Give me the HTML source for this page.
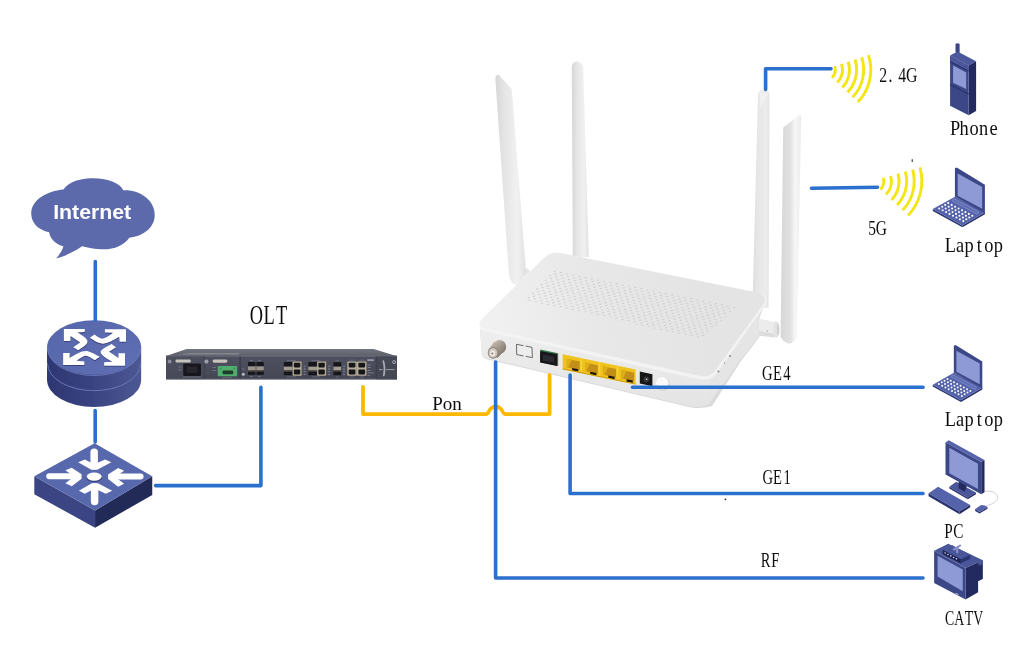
<!DOCTYPE html>
<html lang="en">
<head>
<meta charset="utf-8">
<title>Network topology</title>
<style>
html,body{margin:0;padding:0;background:#fff;}
body{width:1034px;height:668px;overflow:hidden;position:relative;}
svg{display:block;position:absolute;left:0;top:0;}
text{font-family:"Liberation Serif","Noto Serif CJK SC",serif;fill:#111;}
.bl{stroke:#2c6fcd;stroke-width:3.6;fill:none;stroke-linecap:round;stroke-linejoin:round;}
.yl{stroke:#ffb803;stroke-width:3.8;fill:none;stroke-linecap:round;stroke-linejoin:round;}
.wf{stroke:#f3e516;stroke-width:2.9;fill:none;stroke-linecap:butt;}
</style>
</head>
<body>
<svg width="1034" height="668" viewBox="0 0 1034 668">
<defs>
<linearGradient id="cylSide" x1="0" y1="0" x2="1" y2="0">
<stop offset="0" stop-color="#2e3772"/><stop offset="0.45" stop-color="#384280"/><stop offset="1" stop-color="#4d5893"/>
</linearGradient>
<linearGradient id="cylTop" x1="0" y1="0" x2="1" y2="1">
<stop offset="0" stop-color="#5767ab"/><stop offset="1" stop-color="#5f6eb3"/>
</linearGradient>
<filter id="soft" x="-5%" y="-5%" width="110%" height="110%"><feGaussianBlur stdDeviation="0.45"/></filter>
<filter id="soft2" x="-5%" y="-5%" width="110%" height="110%"><feGaussianBlur stdDeviation="0.7"/></filter>
</defs>
<rect width="1034" height="668" fill="#ffffff"/>
<!-- Internet cloud -->
<g filter="url(#soft)">
<g transform="translate(20,170) scale(0.1497)">
<path fill="#5c6bab" d="M290 130C330 70 420 55 490 55C590 55 670 90 690 135C800 130 900 200 900 300C900 380 830 440 730 452C700 500 630 530 560 530C500 530 450 520 415 510C370 540 310 575 240 592C270 560 285 530 290 510C240 495 200 460 195 415C120 400 75 350 75 290C75 200 180 140 290 130Z"/>
</g>
<text x="53.2" y="219.1" font-size="20" font-weight="bold" textLength="78" lengthAdjust="spacingAndGlyphs" style="font-family:'Liberation Sans',sans-serif;fill:#fff">Internet</text>
</g>

<!-- Core router (cylinder) -->
<g filter="url(#soft)">
<g transform="translate(35,310) scale(0.1646)">
<path fill="url(#cylSide)" d="M73 228V424A286 166 0 0 0 645 424V228Z"/>
<path fill="none" stroke="#6a76b6" stroke-width="6" d="M76 324A283 166 0 0 0 642 324"/>
<ellipse cx="359" cy="228" rx="286" ry="166" fill="url(#cylTop)"/>
<path fill="none" stroke="#6f7cbf" stroke-width="5" d="M76 232A283 166 0 0 0 642 232"/>
</g>
<g transform="translate(55.1,322.85) scale(0.07737)" fill="#262e66" opacity="0.85">
<use href="#rarrows"/>
</g>
<g id="rarrows0" transform="translate(55,322) scale(0.07737)" fill="#ffffff">
<g id="rarrows">
<path d="M115 92H385V130L290 135C350 170 420 215 420 250C420 280 410 300 300 365L235 325L325 265L200 180V245H115Z"/>
<path d="M918 95H645V135L750 140C700 180 650 215 610 215C580 215 545 185 510 160L450 205C500 240 560 280 620 280C680 280 760 230 830 190L835 255H918Z"/>
<path d="M105 555V400H190V465C260 420 340 375 400 375C440 375 500 410 580 450L515 495C470 465 430 435 400 435C370 435 320 470 280 500L380 510V555Z"/>
<path d="M905 565V405H820V465L700 385L790 325L730 285C660 325 590 360 590 390C590 420 660 470 740 515L635 520V565Z"/>
</g>
</g>
</g>

<!-- Aggregation switch -->
<g filter="url(#soft)">
<g transform="translate(25,435) scale(0.1497)">
<path fill="#3a4584" d="M62 275L468 505V620L62 395Z"/>
<path fill="#222958" d="M850 275L468 505V620L850 400Z"/>
<path fill="#5968ad" d="M465 55L850 275L468 505L62 275Z"/>
<g fill="#1f2655" opacity="0.55" transform="translate(0,7)">
<ellipse cx="462" cy="278" rx="52" ry="29"/>
</g>
<g fill="none" stroke="#fff" stroke-linecap="round" stroke-linejoin="miter">
<ellipse cx="462" cy="278" rx="50" ry="28" stroke="none" fill="#fff"/>
<path stroke-width="50" d="M462 115V205"/>
<path stroke-width="50" d="M465 445V348"/>
<path stroke-width="40" d="M162 275H340"/>
<path stroke-width="40" d="M772 278H590"/>
<g stroke="none" fill="#fff">
<path d="M355 182L400 163L462 196L535 163L577 182L482 232H443Z"/>
<path d="M360 372L400 392L465 357L540 392L582 372L487 322H446Z"/>
<path d="M270 235L312 218L378 262V292L312 342L270 322L328 278Z"/>
<path d="M662 238L622 220L555 264V294L622 346L662 326L602 280Z"/>
</g>
</g>
</g>
</g>
<!-- OLT chassis -->
<g id="olt" filter="url(#soft2)">
<defs>
<linearGradient id="oltTop" x1="0" y1="0" x2="0" y2="1"><stop offset="0" stop-color="#73757e"/><stop offset="1" stop-color="#5c5e69"/></linearGradient>
<linearGradient id="oltFront" x1="0" y1="0" x2="0" y2="1"><stop offset="0" stop-color="#4f5160"/><stop offset="0.85" stop-color="#474957"/><stop offset="1" stop-color="#3b3d49"/></linearGradient>
</defs>
<path fill="url(#oltTop)" d="M166 355.9L186.5 349H373.8L397 356.2Z"/>
<rect x="166" y="355.7" width="231" height="23.8" fill="url(#oltFront)"/>
<rect x="166" y="378.6" width="231" height="1.2" fill="#8a8c98" opacity="0.7"/>
<rect x="166" y="355.6" width="231" height="0.9" fill="#7d7f8a" opacity="0.8"/>
<!-- light strip on top -->
<path fill="#9a9ca4" opacity="0.6" d="M178 354.4L190 353H240L238 354.6Z"/>
<!-- dividers -->
<rect x="203.6" y="356.5" width="0.8" height="22" fill="#33343f"/>
<rect x="239.6" y="356.5" width="0.9" height="22" fill="#30313b"/>
<rect x="375.8" y="356.5" width="0.9" height="22" fill="#33343f"/>
<rect x="166" y="356" width="38" height="23" fill="#4c4e5c" opacity="0.5"/>
<rect x="376.5" y="356.3" width="20.5" height="23" fill="#444653" opacity="0.8"/>
<!-- power module -->
<circle cx="169.6" cy="361.5" r="1.9" fill="#8c8e9c"/>
<rect x="175.5" y="359.6" width="15.3" height="3" rx="1.4" fill="#c6c2bc"/>
<rect x="183.3" y="363.4" width="17.6" height="12.5" rx="0.8" fill="#14141a"/>
<rect x="186.5" y="366.5" width="11" height="6.5" rx="1" fill="#26262c"/>
<rect x="178.5" y="366.5" width="3" height="0.8" fill="#777a88"/><rect x="178.5" y="369.5" width="3" height="0.8" fill="#777a88"/>
<rect x="183" y="376.6" width="18" height="0.8" fill="#6d6f7c"/>
<!-- dc module -->
<circle cx="206.4" cy="361.6" r="2.1" fill="#9a9ca8"/>
<rect x="212.6" y="359.4" width="14.8" height="3.3" rx="1.6" fill="#c8c4be"/>
<rect x="217.8" y="366" width="19.2" height="10.2" rx="0.6" fill="#4fae6c"/>
<rect x="222.6" y="370.6" width="10.6" height="3.6" rx="1" fill="#1d3b29"/>
<circle cx="220.6" cy="368.6" r="1" fill="#3a8a54"/><circle cx="234.4" cy="368.6" r="1" fill="#3a8a54"/>
<rect x="212.5" y="367" width="3.6" height="0.8" fill="#777a88"/><rect x="212.5" y="370" width="3.6" height="0.8" fill="#777a88"/>
<rect x="222" y="377" width="10" height="0.7" fill="#6d6f7c"/>
<!-- leds -->
<circle cx="243.3" cy="369" r="1.3" fill="#5d5f6d"/>
<circle cx="243.3" cy="374.3" r="1.5" fill="#b9b9c2"/>
<!-- SFP block 1 -->
<g id="sfp2">
<rect x="248" y="362" width="15.8" height="12.8" fill="#16161b"/>
<rect x="248" y="366.3" width="15.8" height="4" fill="#9a948c"/>
<rect x="248" y="370.3" width="15.8" height="1.2" fill="#5e5a55"/>
<rect x="255.5" y="362" width="0.9" height="12.8" fill="#50525f"/>
</g>
<rect x="250" y="360" width="3" height="0.7" fill="#777a88"/><rect x="258" y="360" width="3" height="0.7" fill="#777a88"/>
<rect x="250" y="376.3" width="3" height="0.7" fill="#777a88"/><rect x="258" y="376.3" width="3" height="0.7" fill="#777a88"/>
<!-- combo group 1 -->
<g id="combo">
<rect x="283.8" y="362" width="8.8" height="13.2" fill="#17171c"/>
<rect x="283.8" y="366.6" width="8.8" height="3.8" fill="#a39c92"/>
<rect x="283.8" y="370.4" width="8.8" height="1.1" fill="#5e5a55"/>
<rect x="292.6" y="361.4" width="9" height="14.4" rx="0.8" fill="#b4ab9a"/>
<rect x="293.9" y="362.8" width="6.4" height="4.6" rx="0.8" fill="#121216"/>
<rect x="293.9" y="369.6" width="6.4" height="4.8" rx="0.8" fill="#121216"/>
<rect x="303.6" y="365.8" width="2" height="0.8" fill="#8f919e"/><rect x="303.6" y="368.6" width="2" height="0.8" fill="#8f919e"/><rect x="303.6" y="371.4" width="2" height="0.8" fill="#8f919e"/><rect x="303.6" y="374.2" width="2" height="0.8" fill="#8f919e"/>
<rect x="287" y="360" width="9" height="0.6" fill="#777a88"/><rect x="287" y="376.6" width="9" height="0.6" fill="#777a88"/>
</g>
<use href="#combo" x="24.5"/>
<!-- single SFP -->
<rect x="333.4" y="362.2" width="7.8" height="13" fill="#17171c"/>
<rect x="333.4" y="366.6" width="7.8" height="3.8" fill="#a39c92"/>
<rect x="333.4" y="370.4" width="7.8" height="1.1" fill="#5e5a55"/>
<rect x="343" y="365.8" width="2" height="0.8" fill="#8f919e"/><rect x="343" y="368.6" width="2" height="0.8" fill="#8f919e"/><rect x="343" y="371.4" width="2" height="0.8" fill="#8f919e"/><rect x="343" y="374.2" width="2" height="0.8" fill="#8f919e"/>
<rect x="335.5" y="360" width="3.5" height="0.6" fill="#777a88"/><rect x="335.5" y="376.6" width="3.5" height="0.6" fill="#777a88"/>
<!-- RJ45 pair -->
<g id="rj">
<rect x="347.3" y="361.4" width="9.5" height="14.4" rx="0.8" fill="#b4ab9a"/>
<rect x="348.7" y="362.8" width="6.7" height="4.6" rx="0.8" fill="#121216"/>
<rect x="348.7" y="369.6" width="6.7" height="4.8" rx="0.8" fill="#121216"/>
</g>
<use href="#rj" x="9.7"/>
<rect x="349.5" y="359.8" width="5" height="0.6" fill="#777a88"/><rect x="359.5" y="359.8" width="5" height="0.6" fill="#777a88"/>
<rect x="349.5" y="376.7" width="5" height="0.6" fill="#777a88"/><rect x="360" y="376.7" width="4" height="0.6" fill="#777a88"/>
<rect x="367.3" y="359.3" width="6.5" height="1.6" fill="#a0a2ad"/>
<rect x="367.6" y="364.6" width="3" height="0.7" fill="#8f919e"/><rect x="367.6" y="367.2" width="3" height="0.7" fill="#8f919e"/><rect x="367.6" y="370" width="3" height="0.7" fill="#8f919e"/><rect x="367.6" y="372.6" width="6" height="0.7" fill="#8f919e"/><rect x="367.6" y="375.4" width="2.4" height="0.7" fill="#8f919e"/>
<!-- right ear -->
<path fill="none" stroke="#a9abb5" stroke-width="1.7" stroke-linecap="round" d="M383.3 361Q385.4 367.5 383.8 375.3"/>
<rect x="379" y="369.2" width="3.4" height="0.9" fill="#a0a2ad"/><rect x="386" y="369.2" width="8.5" height="0.9" fill="#a0a2ad"/>
<circle cx="394.1" cy="362.1" r="1.5" fill="none" stroke="#c0c2cc" stroke-width="0.8"/>
</g>
<!-- ONU router -->
<g id="onu" filter="url(#soft2)">
<defs>
<linearGradient id="ant" x1="0" y1="0" x2="1" y2="0"><stop offset="0" stop-color="#d6d6d6"/><stop offset="0.3" stop-color="#e5e5e5"/><stop offset="0.72" stop-color="#f1f1f1"/><stop offset="1" stop-color="#e0e0e0"/></linearGradient>
<linearGradient id="ant2" x1="0" y1="0" x2="1" y2="0"><stop offset="0" stop-color="#d6d6d6"/><stop offset="0.5" stop-color="#e2e2e2"/><stop offset="0.7" stop-color="#f7f7f7"/><stop offset="1" stop-color="#ececec"/></linearGradient>
<linearGradient id="ant3" x1="0" y1="0" x2="1" y2="0"><stop offset="0" stop-color="#dedede"/><stop offset="0.3" stop-color="#e6e6e6"/><stop offset="0.8" stop-color="#ececec"/><stop offset="1" stop-color="#e2e2e2"/></linearGradient>
<linearGradient id="topF" gradientUnits="userSpaceOnUse" x1="700" y1="280" x2="500" y2="330"><stop offset="0" stop-color="#e4e4e4"/><stop offset="0.55" stop-color="#e8e8e8"/><stop offset="1" stop-color="#f0f0f0"/></linearGradient>
<linearGradient id="frontF" x1="0" y1="0" x2="0" y2="1"><stop offset="0" stop-color="#eeeeee"/><stop offset="1" stop-color="#e4e4e4"/></linearGradient>
<pattern id="vent" width="2" height="2" patternUnits="userSpaceOnUse" patternTransform="matrix(3.1 0.62 -2.15 2.2 554 270)">
<circle cx="0.5" cy="0.5" r="0.27" fill="#c8c8c8"/><circle cx="1.5" cy="1.5" r="0.27" fill="#c8c8c8"/>
</pattern>
</defs>
<!-- back antennas -->
<path fill="url(#ant)" d="M571.8 66Q572 62.5 576.8 61.2Q582.6 63 583.2 67.5L588.8 257H572.8Z"/>
<path fill="url(#ant3)" d="M758 94Q759 90.5 763.5 90L768.3 91.5Q769.7 92.5 769.5 96L768.6 308H752.4Z"/>
<path fill="#f1f1f1" d="M759.5 92L768.6 93.5L760.5 108Z" opacity="0.9"/>
<!-- body -->
<path fill="#dadada" d="M480 329L482 355.5Q483.5 358.5 489 359.8L691 407.4Q702 409 711.8 406.3L741 361L759.5 337L759.5 318L765 303Z"/>
<path fill="url(#frontF)" d="M479.8 328L482 354.5Q483.5 357.5 489 358.8L691 406.4Q702 408 709 404L712 377Z"/>
<path fill="#e5e5e5" d="M712 377L709 404L740.5 360L758.8 336.5V318L765 302Z"/>
<path fill="#f3f3f3" d="M479.5 322Q478.5 329.5 486 331.5L700 379.5Q711 381 716.5 373.5L766 304Q768 296 760.5 293.2L560 253Q551 251.5 544.5 257.5Z"/>
<path fill="url(#topF)" d="M480 321Q479 326.5 486 328.3L700 376Q710 377.5 715 371L764.5 302.5Q766 295.5 759.5 293L560 253Q551 251.5 544.5 257.5Z"/>
<path fill="url(#vent)" d="M554 270L737 306L702 339L524 300Z"/>
<!-- side leds -->
<circle cx="718.5" cy="371.5" r="1" fill="#8a8a8a"/><circle cx="724.5" cy="363" r="0.7" fill="#9a9a9a"/><circle cx="730" cy="356" r="1" fill="#8a8a8a"/>
<!-- front antennas -->
<path fill="#e6e6e6" d="M521 270.5L527.5 268.3L530 271.5L523.5 277.5Z"/>
<path fill="#c8c8c8" d="M522.5 273L525 271L525.6 272.2L523.2 274.4Z"/>
<path fill="url(#ant)" d="M495.3 78Q495.6 75 498.2 74.2L511.8 89L525.8 270Q524 281 516.5 285.5Q510.5 284 509 275Z"/>
<path fill="#ececec" d="M759 318.5L774.5 322V337.5L759 335.5Z"/>
<path fill="#dcdcdc" d="M759 331L774.5 334V337.5L759 335.5Z"/>
<ellipse cx="776.3" cy="329.5" rx="3.3" ry="8.3" fill="#e3e3e3"/>
<ellipse cx="778" cy="329.5" rx="1.2" ry="6" fill="#cfcfcf"/>
<circle cx="767.3" cy="331" r="0.7" fill="#aaa"/>
<path fill="url(#ant2)" d="M783.2 127.5L799.8 114.8Q801.2 115 801.2 117L796.8 337Q794 343 789.5 343.8Q783 342.5 780.6 336.5Z"/>
<!-- RF connector -->
<defs><linearGradient id="rfg" x1="0" y1="0" x2="1" y2="1"><stop offset="0" stop-color="#cfc6bd"/><stop offset="0.5" stop-color="#a3978b"/><stop offset="1" stop-color="#6f655c"/></linearGradient></defs>
<ellipse cx="499.6" cy="346.8" rx="6.6" ry="6.9" fill="url(#rfg)"/>
<path fill="url(#rfg)" d="M488.3 349.5L494.5 341.5L505.5 349.5L497.5 358Z"/>
<ellipse cx="493.2" cy="352.8" rx="5.5" ry="5.9" fill="#8f857b"/>
<ellipse cx="493" cy="352.9" rx="4.4" ry="4.8" fill="#cdc5bd"/>
<ellipse cx="492.6" cy="353.2" rx="2.6" ry="2.9" fill="#ece8e3"/>
<circle cx="492.3" cy="353.4" r="0.9" fill="#7a6f64"/>
<!-- usb outline -->
<path fill="#ededed" stroke="#5c5c5c" stroke-width="0.9" d="M516.5 344.3L532 347.3L532.4 357.6L516.7 354.6Z"/>
<path fill="#ededed" d="M523.5 343.5H525.7V358.5H523.5Z"/>
<!-- optical port -->
<path fill="#2f7a50" d="M540.3 349.6L558.2 353.2V366L540.3 362.3Z"/>
<path fill="#17171a" d="M540.1 350.9L557 354.3V366L540.1 362.5Z"/>
<path fill="#2b2b30" d="M543 354.6L554 356.8V362.8L543 360.6Z"/>
<!-- LAN ports -->
<path fill="#efc21d" d="M562.7 354.3L635.6 369.5V384.4L562.7 369.3Z"/>
<path fill="#c48f17" d="M566.9 358.7L579.7 361.4V369.9L566.9 367.2Z"/>
<path fill="#e0ad1a" d="M566.9 358.7L571.9 359.8L568.4 367.5L566.9 367.2Z"/>
<path fill="#1c1508" d="M572.1 367.9L578.3 369.2V371.8L572.1 370.5Z"/>
<path fill="#c48f17" d="M585.0 362.5L597.8 365.2V373.7L585.0 371.0Z"/>
<path fill="#e0ad1a" d="M585.0 362.5L590.0 363.5L586.5 371.3L585.0 371.0Z"/>
<path fill="#1c1508" d="M590.2 371.7L596.4 373.0V375.6L590.2 374.3Z"/>
<path fill="#f6d23a" d="M580.4 358.7h1.6v13.5h-1.6Z"/>
<path fill="#c48f17" d="M603.2 366.3L616.0 368.9V377.4L603.2 374.8Z"/>
<path fill="#e0ad1a" d="M603.2 366.3L608.2 367.3L604.7 375.1L603.2 374.8Z"/>
<path fill="#1c1508" d="M608.4 375.5L614.6 376.8V379.4L608.4 378.1Z"/>
<path fill="#f6d23a" d="M598.6 362.4h1.6v13.5h-1.6Z"/>
<path fill="#c48f17" d="M621.4 370.1L634.1 372.7V381.2L621.4 378.6Z"/>
<path fill="#e0ad1a" d="M621.4 370.1L626.4 371.1L622.9 378.9L621.4 378.6Z"/>
<path fill="#1c1508" d="M626.6 379.2L632.8 380.5V383.1L626.6 381.8Z"/>
<path fill="#f6d23a" d="M616.8 366.2h1.6v13.5h-1.6Z"/>
<path fill="#d1a114" d="M562.7 368.3L635.6 383.4V384.6L562.7 369.5Z"/>
<!-- DC jack -->
<path fill="#151518" d="M639.8 371.6L652.4 374.2V386.2L639.8 383.6Z"/>
<circle cx="646.3" cy="379.3" r="2.9" fill="#34343a"/><circle cx="646.6" cy="379.2" r="0.8" fill="#d8d8d8"/>
<!-- button -->
<ellipse cx="662.8" cy="384" rx="6.8" ry="7" fill="#d2d2d2"/>
<ellipse cx="662.2" cy="383.2" rx="6.2" ry="6.3" fill="#fafafa"/>
</g>
<!-- wifi waves -->
<g class="wf" filter="url(#soft)">
<path d="M834.7 66.1A11.6 11.6 0 0 1 832.1 77.7"/>
<path d="M841.5 63.9A18.7 18.7 0 0 1 837.3 82.6"/>
<path d="M848.2 61.7A25.8 25.8 0 0 1 842.4 87.5"/>
<path d="M855.0 59.5A32.9 32.9 0 0 1 847.6 92.3"/>
<path d="M861.7 57.3A40.0 40.0 0 0 1 852.7 97.2"/>
<path d="M868.5 55.1A47.1 47.1 0 0 1 857.9 102.1"/>
<path d="M883.3 177.9A11.9 11.9 0 0 1 880.5 189.4"/>
<path d="M890.6 175.8A19.5 19.5 0 0 1 886.0 194.6"/>
<path d="M898.0 173.7A27.1 27.1 0 0 1 891.6 199.9"/>
<path d="M905.3 171.6A34.7 34.7 0 0 1 897.1 205.1"/>
<path d="M912.6 169.5A42.3 42.3 0 0 1 902.6 210.3"/>
<path d="M919.9 167.4A49.9 49.9 0 0 1 908.1 215.5"/>
</g>
<!-- Phone -->
<g filter="url(#soft)">
<g transform="translate(930,35) scale(0.1646)">
<path fill="#3a4586" d="M155 55Q167 45 180 55V115L155 105Z"/>
<path fill="#4c589b" d="M122 125L167 100L280 160L235 185Z"/>
<path fill="#222a5e" d="M235 185L280 160V462L235 488Z"/>
<path fill="#3b4687" d="M122 125L235 185V488L122 430Z"/>
<path fill="#4d599c" d="M122 128L235 188V215L122 158Z"/>
<path fill="#2a3268" d="M122 158L235 215V222L122 165Z"/>
<path fill="#8e9ad6" d="M140 185L220 228V328L140 290Z"/>
<path fill="#2a3268" d="M122 298L235 355V363L122 306Z"/>
</g>
</g>

<!-- Laptop (shared) -->
<g filter="url(#soft)">
<g transform="translate(925,160) scale(0.1497)"><g id="laptop">
<path fill="#2c3574" d="M52 328L250 437V450L52 341Z"/>
<path fill="#232b60" d="M250 437L400 350V363L250 450Z"/>
<path fill="#5564aa" d="M200 245L400 350L250 437L52 328Z"/>
<path fill="#3b4687" d="M200 55L212 50L400 165V355L200 245Z"/>
<path fill="#8e9ad6" d="M218 90L382 180V325L218 238Z"/>
<path fill="#5d6cb2" stroke="#8792cf" stroke-width="5" stroke-linejoin="round" d="M192 258L358 346L350 362L182 273Z"/>
<g fill="#fff">
<circle cx="155" cy="288" r="7"/><circle cx="178" cy="300" r="7"/><circle cx="201" cy="312" r="7"/><circle cx="224" cy="324" r="7"/><circle cx="247" cy="336" r="7"/><circle cx="270" cy="348" r="7"/><circle cx="293" cy="360" r="7"/><circle cx="316" cy="372" r="7"/>
<circle cx="135" cy="300" r="7"/><circle cx="158" cy="312" r="7"/><circle cx="181" cy="324" r="7"/><circle cx="204" cy="336" r="7"/><circle cx="227" cy="348" r="7"/><circle cx="250" cy="360" r="7"/><circle cx="273" cy="372" r="7"/><circle cx="296" cy="384" r="7"/>
<circle cx="115" cy="312" r="7"/><circle cx="138" cy="324" r="7"/><circle cx="161" cy="336" r="7"/><circle cx="184" cy="348" r="7"/><circle cx="207" cy="360" r="7"/><circle cx="230" cy="372" r="7"/><circle cx="253" cy="384" r="7"/><circle cx="276" cy="396" r="7"/>
<circle cx="95" cy="324" r="7"/><circle cx="118" cy="336" r="7"/><circle cx="141" cy="348" r="7"/><circle cx="164" cy="360" r="7"/><circle cx="187" cy="372" r="7"/><circle cx="210" cy="384" r="7"/><circle cx="233" cy="396" r="7"/><circle cx="256" cy="408" r="7"/>
</g>
</g>
</g>
<use href="#laptop" transform="translate(925.38,337.96) scale(0.1423)"/>
</g>

<!-- PC -->
<g filter="url(#soft)">
<g transform="translate(920,430) scale(0.1646)">
<path fill="none" stroke="#c4c6d2" stroke-width="5" d="M392 372C450 365 480 395 470 420C460 445 420 455 400 462"/>
<path fill="#4a5699" d="M220 315L340 380L290 410L178 345Z"/>
<path fill="#2c3574" d="M178 345L290 410V420L178 356Z"/><path fill="#232b60" d="M290 410L340 380V390L290 420Z"/>
<path fill="#232b60" d="M235 310L285 338L272 375L235 355Z"/>
<path fill="#5564aa" d="M155 75L175 62L392 182L372 195Z"/>
<path fill="#232b60" d="M372 195L392 182V378L372 390Z"/>
<path fill="#3b4687" d="M155 75L372 195V390L155 270Z"/>
<path fill="#8e9ad6" d="M178 108L352 205V358L178 262Z"/>
<path fill="#5564aa" d="M110 345L305 455L240 495L52 385Z"/>
<path fill="#2c3574" d="M52 385L240 495V512L52 402Z"/><path fill="#232b60" d="M240 495L305 455V470L240 512Z"/>
<path fill="#5564aa" d="M335 480L372 455Q395 455 410 468L362 498Z"/>
<path fill="#2c3574" d="M335 480L362 498L410 468V478L362 508L335 492Z"/>
</g>
</g>

<!-- CATV -->
<g filter="url(#soft)">
<g transform="translate(920,535) scale(0.15707)">
<path fill="#4a5699" d="M90 100L180 55L400 160L290 210Z"/>
<path fill="#232b60" d="M290 210L400 160V280L370 295V365L290 410Z"/>
<path fill="#3b4687" d="M90 100L290 210V410L90 305Z"/>
<path fill="#8e9ad6" d="M112 132L272 220V358L112 265Z"/>
<path fill="#4a5699" d="M372 165L400 160V185L372 195Z"/>
<path fill="#4a5699" d="M145 95L205 65L320 125L260 155Z"/>
<path fill="#1d2452" d="M145 95L260 155V182L145 122Z"/>
<path fill="#2c3574" d="M260 155L320 125V152L260 182Z"/>
<g fill="#d8dcf0"><circle cx="160" cy="115" r="5"/><circle cx="178" cy="124" r="5"/><circle cx="196" cy="133" r="5"/><circle cx="214" cy="143" r="5"/><circle cx="232" cy="152" r="5"/></g>
<path fill="none" stroke="#8890c8" stroke-width="14" stroke-linecap="round" d="M215 92L255 68M237 82V110"/>
<rect x="225" y="372" width="22" height="5" fill="#c8ccee" transform="rotate(27 236 374)"/>
</g>
</g>
<!-- connection lines -->
<g id="lines" filter="url(#soft)">
<path class="bl" d="M95.3 261.5V320.3"/>
<path class="bl" d="M95.2 410.5V442"/>
<path class="bl" d="M155.5 485.6H260.9V387.4"/>
<path class="yl" d="M363 387V414.1H486.2C489.6 414.1 488.2 406.7 495.7 406.7C503.2 406.7 501.8 414.1 505.2 414.1H549.6V375"/>
<path class="bl" d="M495.6 362V578H923"/>
<path class="bl" d="M570.1 375V493.5H923"/>
<path class="bl" d="M632.5 387.3H923"/>
<path class="bl" d="M765.6 89.5V68.8H831"/>
<path class="bl" d="M811.5 188.3L877.5 187.3"/>
</g>
<!-- labels -->
<g id="labels" filter="url(#soft)">
<text transform="translate(249.65,324.4) scale(0.7,1)" font-size="26.3" x="0.00 19.75 37.61">OLT</text>
<text transform="translate(762.12,380.0) scale(0.72,1)" font-size="20.3" x="0.00 15.16 29.48" fill="#333">GE4</text>
<text transform="translate(762.42,483.7) scale(0.72,1)" font-size="20.3" x="0.00 14.60 29.20">GE1</text>
<text transform="translate(760.83,566.8) scale(0.72,1)" font-size="20.3" x="0.00 14.60">RF</text>
<text transform="translate(879.24,81.8) scale(0.78,1)" font-size="20.3" x="0.00 12.02 24.36 34.16" fill="#2a2a2a">2.4G</text>
<text transform="translate(868.24,234.7) scale(0.76,1)" font-size="20.3" x="0.00 9.85" fill="#2a2a2a">5G</text>
<text transform="translate(950.08,134.7) scale(0.92,1)" font-size="20.0" x="0.00 10.34 21.21 31.54 42.86">Phone</text>
<text transform="translate(944.68,251.7) scale(0.92,1)" font-size="20.0" x="0.00 12.21 21.54 34.85 43.06 53.39">Laptop</text>
<text transform="translate(944.68,425.5) scale(0.92,1)" font-size="20.0" x="0.00 12.21 21.54 34.85 43.06 53.39">Laptop</text>
<text transform="translate(944.37,537.7) scale(0.75,1)" font-size="20.3" x="0.00 11.94">PC</text>
<text transform="translate(944.90,624.5) scale(0.68,1)" font-size="20.3" x="0.00 13.70 29.10 41.65">CATV</text>
<text x="432.3" y="410" font-size="19">Pon</text>
<rect x="911.7" y="159.2" width="1" height="2.8" fill="#222"/>
<circle cx="725.4" cy="499.3" r="0.9" fill="#222"/>
</g>
</svg>
</body>
</html>
